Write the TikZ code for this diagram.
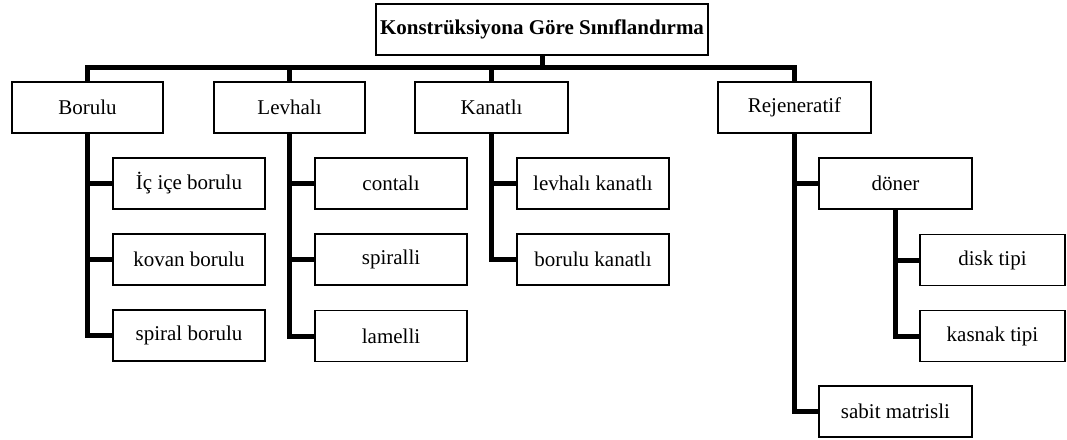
\documentclass[tikz,border=0pt]{standalone}
\usepackage{fontspec}
\setmainfont{Liberation Serif}
\begin{document}
\begin{tikzpicture}[x=1pt,y=-1pt,
  box/.style={draw=black,line width=1.4pt,rectangle,inner sep=0pt,minimum height=51pt,font=\fontsize{21}{25}\selectfont},
  conn/.style={line width=5pt,line join=miter}]
\useasboundingbox (0,0) rectangle (1067,439);
% top
\node[box,minimum width=332pt,font=\fontsize{21}{25}\selectfont\bfseries] (top) at (542,29.5) {Konstrüksiyona Göre Sınıflandırma};
% level 1
\node[box,minimum width=151pt] (bor) at (87.5,107.5) {Borulu};
\node[box,minimum width=151pt] (lev) at (289.5,107.5) {Levhalı};
\node[box,minimum width=153pt] (kan) at (491.5,107.5) {Kanatlı};
\node[box,minimum width=153pt] (rej) at (794.5,107.5) {Rejeneratif};
% level 2
\node[box,minimum width=152pt] (icice) at (189,183.5) {İç içe borulu};
\node[box,minimum width=152pt] (kovan) at (189,259.5) {kovan borulu};
\node[box,minimum width=152pt] (spb) at (189,335.5) {spiral borulu};
\node[box,minimum width=152pt] (cont) at (391,183.5) {contalı};
\node[box,minimum width=152pt] (spir) at (391,259.5) {spiralli};
\node[box,minimum width=152pt] (lam) at (391,336) {lamelli};
\node[box,minimum width=152pt] (levk) at (593,183.5) {levhalı kanatlı};
\node[box,minimum width=152pt] (bork) at (593,259.5) {borulu kanatlı};
\node[box,minimum width=153pt] (don) at (895.5,183.5) {döner};
\node[box,minimum width=145pt] (disk) at (992.5,260) {disk tipi};
\node[box,minimum width=145pt] (kas) at (992.5,336) {kasnak tipi};
\node[box,minimum width=153pt] (sab) at (895.5,411.5) {sabit matrisli};
% bar
\coordinate (bar) at (0,67);
\draw[conn] (top.south) -- (top.south |- bar);
\draw[conn] (bor.north) |- (bar -| rej.north) -- (rej.north);
\draw[conn] (lev.north) -- (lev.north |- bar);
\draw[conn] (kan.north) -- (kan.north |- bar);
% Borulu
\draw[conn] (bor.south) |- (spb.west);
\draw[conn] (bor.south |- icice.west) -- (icice.west);
\draw[conn] (bor.south |- kovan.west) -- (kovan.west);
% Levhali
\draw[conn] (lev.south) |- (lam.west);
\draw[conn] (lev.south |- cont.west) -- (cont.west);
\draw[conn] (lev.south |- spir.west) -- (spir.west);
% Kanatli
\draw[conn] (kan.south) |- (bork.west);
\draw[conn] (kan.south |- levk.west) -- (levk.west);
% Rejeneratif
\draw[conn] (rej.south) |- (sab.west);
\draw[conn] (rej.south |- don.west) -- (don.west);
\draw[conn] (don.south) |- (kas.west);
\draw[conn] (don.south |- disk.west) -- (disk.west);
\end{tikzpicture}
\end{document}
